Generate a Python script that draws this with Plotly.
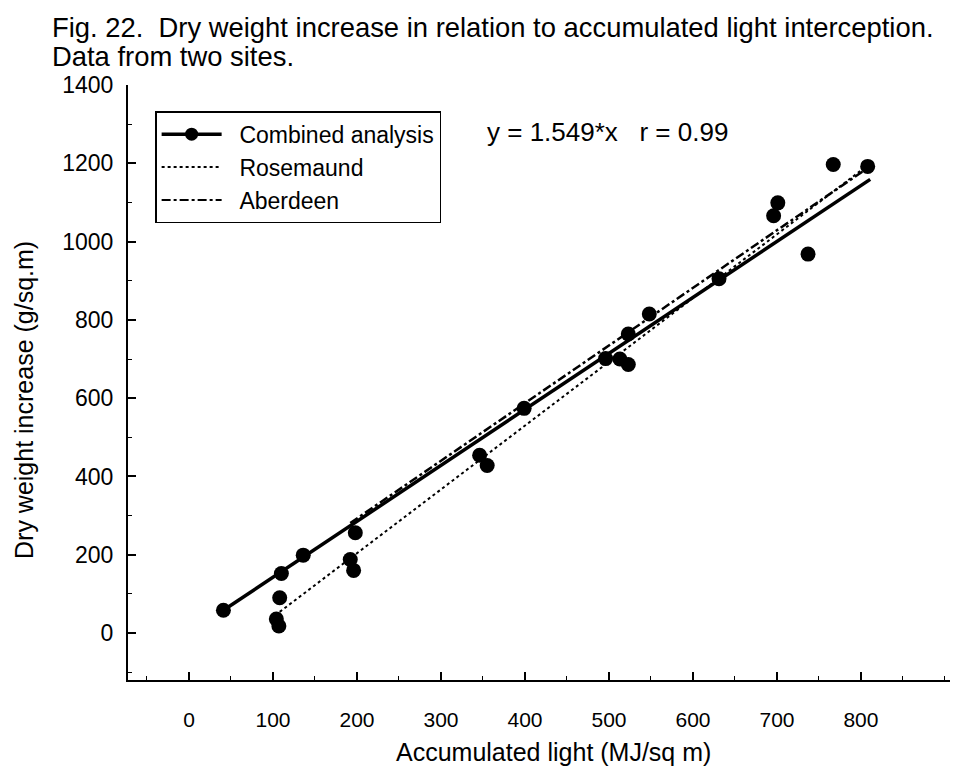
import plotly.graph_objects as go

# Observed data points (accumulated light MJ/sq m, dry weight increase g/sq.m)
light = [41, 108, 104, 107, 110, 136, 192, 196, 198, 346, 355, 399, 496, 513, 523, 523, 548, 631, 696, 701, 737, 767, 808]
dry = [58, 90, 36, 18, 152, 199, 188, 160, 256, 454, 428, 574, 701, 700, 686, 764, 815, 905, 1066, 1099, 968, 1197, 1192]

# Fitted lines (end points)
combined_x = [41, 811]
combined_y = [58, 1159]
rose_x = [108, 799]
rose_y = [54, 1180]
aber_x = [192, 806]
aber_y = [281, 1185]

x_ticks = [0, 100, 200, 300, 400, 500, 600, 700, 800]
y_ticks = [0, 200, 400, 600, 800, 1000, 1200, 1400]

title_lines = ["Fig. 22.  Dry weight increase in relation to accumulated light interception.",
               "Data from two sites."]
series_names = ["Combined analysis", "Rosemaund", "Aberdeen"]

FONT = "Liberation Sans, Arial, sans-serif"
PAD = "\u00a0\u00a0"

fig = go.Figure()

fig.add_trace(go.Scatter(x=combined_x, y=combined_y, mode="lines",
                         line=dict(color="black", width=3.5), showlegend=False))
fig.add_trace(go.Scatter(x=rose_x, y=rose_y, mode="lines",
                         line=dict(color="black", width=2, dash="dot"), showlegend=False))
fig.add_trace(go.Scatter(x=aber_x, y=aber_y, mode="lines",
                         line=dict(color="black", width=2.5, dash="dashdot"), showlegend=False))
fig.add_trace(go.Scatter(x=light, y=dry, mode="markers",
                         marker=dict(color="black", size=15), showlegend=False))

# legend entries
fig.add_trace(go.Scatter(x=[None], y=[None], mode="lines+markers", name=PAD + series_names[0],
                         line=dict(color="black", width=3.5), marker=dict(color="black", size=13)))
fig.add_trace(go.Scatter(x=[None], y=[None], mode="lines", name=PAD + series_names[1],
                         line=dict(color="black", width=2, dash="dot")))
fig.add_trace(go.Scatter(x=[None], y=[None], mode="lines", name=PAD + series_names[2],
                         line=dict(color="black", width=2, dash="dashdot")))

fig.add_annotation(x=352, y=1279, xref="x", yref="y", xanchor="left", yanchor="middle",
                   text="y = 1.549*x   r = 0.99", showarrow=False,
                   font=dict(family=FONT, size=26, color="black"))

# Pixel placements (converted to paper coordinates below)
L, T, W, H = 128, 85, 822, 595


def px_to_paper(px, py):
    return (px - L) / W, (T + H - py) / H


tx, ty1 = px_to_paper(50, 28)
_, ty2 = px_to_paper(50, 57)
fig.add_annotation(x=tx, y=ty1, xref="paper", yref="paper", text=title_lines[0],
                   showarrow=False, xanchor="left", yanchor="middle",
                   font=dict(family=FONT, size=27.4, color="black"))
fig.add_annotation(x=tx, y=ty2, xref="paper", yref="paper", text=title_lines[1],
                   showarrow=False, xanchor="left", yanchor="middle",
                   font=dict(family=FONT, size=27.4, color="black"))

# axis titles
ax_x, ax_y = px_to_paper(553, 752)
fig.add_annotation(x=ax_x, y=ax_y, xref="paper", yref="paper", text="Accumulated light (MJ/sq m)",
                   showarrow=False, xanchor="center", yanchor="middle",
                   font=dict(family=FONT, size=25, color="black"))
ay_x, ay_y = px_to_paper(24, 400)
fig.add_annotation(x=ay_x, y=ay_y, xref="paper", yref="paper", text="Dry weight increase (g/sq.m)",
                   showarrow=False, xanchor="center", yanchor="middle", textangle=-90,
                   font=dict(family=FONT, size=25, color="black"))

fig.update_layout(
    width=954, height=774,
    paper_bgcolor="white", plot_bgcolor="white",
    margin=dict(l=L, r=954 - L - W, t=T, b=774 - T - H),
    font=dict(family=FONT, color="black"),
    legend=dict(x=0.033, y=0.956, xanchor="left", yanchor="top",
                bordercolor="black", borderwidth=1.5, bgcolor="white",
                font=dict(family=FONT, size=23, color="black"),
                itemwidth=60, tracegroupgap=0),
    showlegend=True,
)

fig.update_xaxes(range=[-72.6, 906], showgrid=False, zeroline=False,
                 showline=True, linecolor="black", linewidth=2,
                 tickmode="array", tickvals=x_ticks, ticktext=[str(v) for v in x_ticks],
                 ticks="inside", ticklen=8, tickwidth=1.5, tickcolor="black",
                 minor=dict(dtick=50, tick0=0, ticks="inside", ticklen=4, tickwidth=1, tickcolor="black"),
                 ticklabelstandoff=20,
                 tickfont=dict(family=FONT, size=21, color="black"))

fig.update_yaxes(range=[-120, 1400], showgrid=False, zeroline=False,
                 showline=True, linecolor="black", linewidth=2,
                 tickmode="array", tickvals=y_ticks, ticktext=[str(v) for v in y_ticks],
                 ticks="inside", ticklen=8, tickwidth=1.5, tickcolor="black",
                 minor=dict(dtick=100, tick0=0, ticks="inside", ticklen=4, tickwidth=1, tickcolor="black"),
                 ticklabelstandoff=8,
                 tickfont=dict(family=FONT, size=23, color="black"))

fig.write_html("out.html")
